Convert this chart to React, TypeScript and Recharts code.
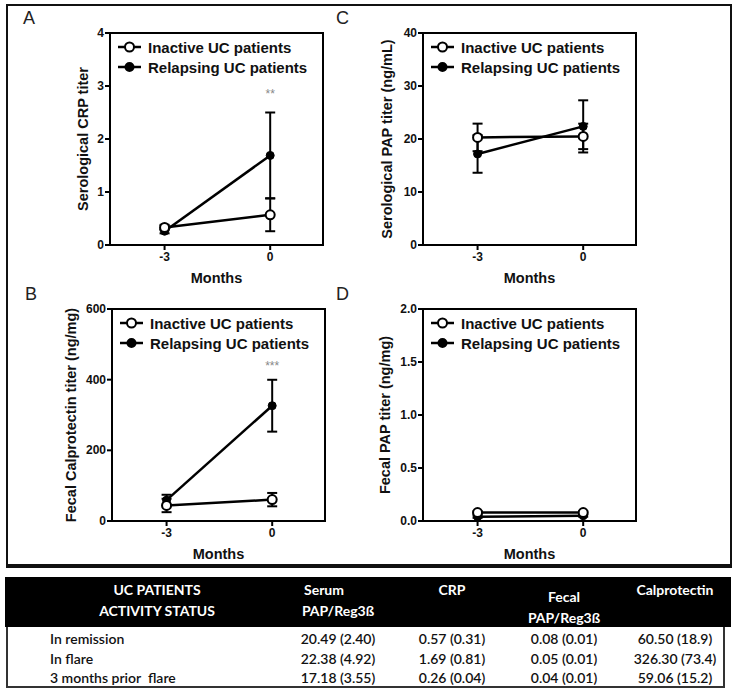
import React from 'react';
import {
  LineChart,
  Line,
  XAxis,
  YAxis,
  ErrorBar,
  Legend,
  ReferenceArea,
  ReferenceDot,
  Label
} from 'recharts';

// months relative to flare
const months = [-3, 0];

// A: serological CRP
const crpInactive = [0.33, 0.57];
const crpInactiveSem = [0.05, 0.31];
const crpRelapsing = [0.26, 1.69];
const crpRelapsingSem = [0.04, 0.81];

// B: fecal calprotectin
const calInactive = [44, 60.5];
const calInactiveSem = [19, 18.9];
const calRelapsing = [59.06, 326.3];
const calRelapsingSem = [15.2, 73.4];

// C: serological PAP
const papInactive = [20.3, 20.49];
const papInactiveSem = [2.6, 2.4];
const papRelapsing = [17.18, 22.38];
const papRelapsingSem = [3.55, 4.92];

// D: fecal PAP
const fpapInactive = [0.08, 0.08];
const fpapInactiveSem = [0.01, 0.01];
const fpapRelapsing = [0.04, 0.05];
const fpapRelapsingSem = [0.01, 0.01];

const seriesNames = ['Inactive UC patients', 'Relapsing UC patients'];

// table
const tableHead1 = ['UC PATIENTS', 'Serum', 'CRP', 'Fecal', 'Calprotectin'];
const tableHead2 = ['ACTIVITY STATUS', 'PAP/Reg3ß', '', 'PAP/Reg3ß', ''];
const rowLabels = ['In remission', 'In flare', '3 months prior  flare'];
const serumPapCol = ['20.49 (2.40)', '22.38 (4.92)', '17.18 (3.55)'];
const crpCol = ['0.57 (0.31)', '1.69 (0.81)', '0.26 (0.04)'];
const fecalPapCol = ['0.08 (0.01)', '0.05 (0.01)', '0.04 (0.01)'];
const calproCol = ['60.50 (18.9)', '326.30 (73.4)', '59.06 (15.2)'];

const build = (a: number[], ae: number[], b: number[], be: number[]) =>
  months.map((m, i) => ({ month: m, inactive: a[i], inErr: ae[i], relapsing: b[i], reErr: be[i] }));

const FONT = 'Arial, "Liberation Sans", sans-serif';
const xDomain: [number, number] = [-4.55, 1.5];

interface PanelProps {
  left: number;
  top: number;
  letter: string;
  yLabel: string;
  yLabelX: number;
  ticks: number[];
  decimals?: number;
  data: any[];
  stars?: { y: number; text: string };
}

const LegendBox = () => (
  <div style={{ fontFamily: FONT, fontWeight: 'bold', fontSize: 15, color: '#111' }}>
    {seriesNames.map((name, i) => (
      <div key={name} style={{ display: 'flex', alignItems: 'center', height: 20 }}>
        <svg width={28} height={14}>
          <line x1={1} y1={7} x2={24} y2={7} stroke="#000" strokeWidth={2.5} />
          <circle cx={12.5} cy={7} r={i === 0 ? 4.5 : 4} fill={i === 0 ? '#fff' : '#000'} stroke="#000" strokeWidth={2} />
        </svg>
        <span style={{ marginLeft: 3 }}>{name}</span>
      </div>
    ))}
  </div>
);

const tickText = (decimals: number, vertical: boolean) => (props: any) => {
  const { x, y, payload } = props;
  return (
    <text
      x={x}
      y={y}
      textAnchor={vertical ? 'end' : 'middle'}
      dominantBaseline={vertical ? 'central' : 'hanging'}
      style={{ fontFamily: FONT, fontWeight: 'bold', fontSize: 12, fill: '#111' }}
    >
      {Number(payload.value).toFixed(decimals)}
    </text>
  );
};

const Panel: React.FC<PanelProps> = ({ left, top, letter, yLabel, yLabelX, ticks, decimals = 0, data, stars }) => {
  const yMax = ticks[ticks.length - 1];
  return (
    <div style={{ position: 'absolute', left, top, width: 360, height: 290 }}>
      <div style={{ position: 'absolute', left: 23, top: 8, fontFamily: FONT, fontSize: 18, color: '#222' }}>{letter}</div>
      <LineChart width={360} height={290} data={data} margin={{ top: 33, right: 37, left: 0, bottom: 0 }}>
        <XAxis
          dataKey="month"
          type="number"
          domain={xDomain}
          ticks={months}
          allowDataOverflow
          height={45}
          stroke="#000"
          strokeWidth={2}
          tickSize={5}
          tick={tickText(0, false)}
          tickMargin={2}
        >
          <Label
            content={({ viewBox }: any) => (
              <text
                x={viewBox.x + viewBox.width / 2}
                y={viewBox.y + 38}
                textAnchor="middle"
                style={{ fontFamily: FONT, fontWeight: 'bold', fontSize: 14.5, fill: '#111' }}
              >
                Months
              </text>
            )}
          />
        </XAxis>
        <YAxis
          width={110}
          domain={[0, yMax]}
          ticks={ticks}
          stroke="#000"
          strokeWidth={2}
          tickSize={5}
          tickMargin={1}
          tick={tickText(decimals, true)}
        >
          <Label
            content={({ viewBox }: any) => (
              <text
                x={yLabelX}
                y={viewBox.y + viewBox.height / 2}
                textAnchor="middle"
                dominantBaseline="central"
                transform={`rotate(-90 ${yLabelX} ${viewBox.y + viewBox.height / 2})`}
                style={{ fontFamily: FONT, fontWeight: 'bold', fontSize: 14.5, fill: '#111' }}
              >
                {yLabel}
              </text>
            )}
          />
        </YAxis>
        <ReferenceArea x1={xDomain[0]} x2={xDomain[1]} y1={0} y2={yMax} fill="none" stroke="#000" strokeWidth={2} />
        {stars && (
          <ReferenceDot x={0} y={stars.y} r={0} fill="none" stroke="none">
            <Label value={stars.text} position="center" style={{ fontFamily: FONT, fontSize: 12, fill: '#888' }} />
          </ReferenceDot>
        )}
        <Legend
          layout="vertical"
          align="center"
          verticalAlign="middle"
          wrapperStyle={{ top: 37, left: 117, width: 'auto' }}
          content={() => <LegendBox />}
        />
        <Line
          dataKey="relapsing"
          name={seriesNames[1]}
          stroke="#000"
          strokeWidth={2.5}
          dot={{ r: 4, fill: '#000', stroke: '#000', strokeWidth: 1 }}
          isAnimationActive={false}
        >
          <ErrorBar dataKey="reErr" direction="y" width={5} stroke="#000" strokeWidth={2} />
        </Line>
        <Line
          dataKey="inactive"
          name={seriesNames[0]}
          stroke="#000"
          strokeWidth={2.5}
          dot={{ r: 4.5, fill: '#fff', stroke: '#000', strokeWidth: 2 }}
          isAnimationActive={false}
        >
          <ErrorBar dataKey="inErr" direction="y" width={5} stroke="#000" strokeWidth={2} />
        </Line>
      </LineChart>
    </div>
  );
};

const cellBase: React.CSSProperties = { position: 'absolute', transform: 'translate(-50%, -50%)', whiteSpace: 'nowrap' };
const colX = [157, 338, 452, 564, 675];
const valueCols = [serumPapCol, crpCol, fecalPapCol, calproCol];
const rowY = [638, 658, 677];

export default function App() {
  return (
    <div style={{ position: 'absolute', left: 0, top: 0, width: 737, height: 696, background: '#fff', overflow: 'hidden' }}>
      <div style={{ position: 'absolute', left: 6, top: 4, width: 722, height: 558, border: '2px solid #111', borderBottomWidth: 4 }} />
      <Panel left={0} top={0} letter="A" yLabel="Serological CRP titer" yLabelX={83} ticks={[0, 1, 2, 3, 4]}
        data={build(crpInactive, crpInactiveSem, crpRelapsing, crpRelapsingSem)} stars={{ y: 2.85, text: '**' }} />
      <Panel left={313} top={0} letter="C" yLabel="Serological PAP titer (ng/mL)" yLabelX={74} ticks={[0, 10, 20, 30, 40]}
        data={build(papInactive, papInactiveSem, papRelapsing, papRelapsingSem)} />
      <Panel left={2} top={276} letter="B" yLabel="Fecal Calprotectin titer (ng/mg)" yLabelX={69} ticks={[0, 200, 400, 600]}
        data={build(calInactive, calInactiveSem, calRelapsing, calRelapsingSem)} stars={{ y: 440, text: '***' }} />
      <Panel left={313} top={276} letter="D" yLabel="Fecal PAP titer (ng/mg)" yLabelX={72} ticks={[0, 0.5, 1, 1.5, 2]} decimals={1}
        data={build(fpapInactive, fpapInactiveSem, fpapRelapsing, fpapRelapsingSem)} />

      {/* table */}
      <div style={{ position: 'absolute', left: 5, top: 577, width: 726, height: 50, background: '#000' }} />
      <div style={{ position: 'absolute', left: 6, top: 627, width: 715, height: 59, borderLeft: '2px solid #333', borderRight: '2px solid #333', borderBottom: '2px solid #333' }} />
      <div style={{ fontFamily: 'Lato, "Open Sans", sans-serif', fontWeight: 'bold', fontSize: 14, color: '#fff' }}>
        {tableHead1.map((t, i) => (
          <div key={'h1' + i} style={{ ...cellBase, left: i === 1 ? 324 : colX[i], top: i === 3 ? 596 : 589 }}>{t}</div>
        ))}
        {tableHead2.map((t, i) => (
          <div key={'h2' + i} style={{ ...cellBase, left: colX[i], top: i === 3 ? 617 : 610 }}>{t}</div>
        ))}
      </div>
      <div style={{ fontFamily: 'Lato, "Open Sans", sans-serif', fontWeight: 600, fontSize: 14, color: '#111' }}>
        {rowLabels.map((r, j) => (
          <div key={r} style={{ position: 'absolute', left: 50, top: rowY[j], transform: 'translateY(-50%)', whiteSpace: 'pre' }}>{r}</div>
        ))}
        {valueCols.map((col, i) =>
          col.map((v, j) => (
            <div key={i + '-' + j} style={{ ...cellBase, left: colX[i + 1], top: rowY[j] }}>{v}</div>
          ))
        )}
      </div>
    </div>
  );
}
